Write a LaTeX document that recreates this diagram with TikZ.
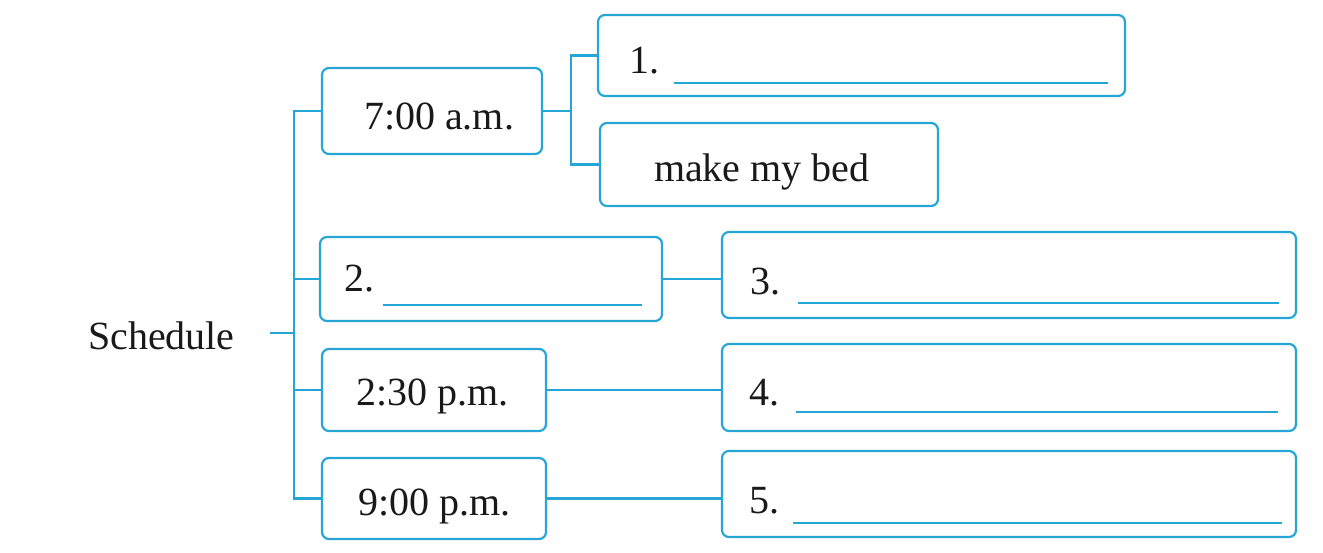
\documentclass[tikz,border=0pt]{standalone}
\usepackage{fontspec}
\setmainfont{Liberation Serif}
\begin{document}
\begin{tikzpicture}[x=1pt,y=-1pt,
  every node/.style={inner sep=0pt, outer sep=0pt},
  box/.style={draw=schedblue, line width=2.2pt, rounded corners=7pt},
  conn/.style={draw=schedblue, line width=2.2pt},
  blank/.style={draw=schedblue, line width=1.8pt},
  txt/.style={anchor=base west, font=\fontsize{40}{48}\selectfont, text=black!90}]
\definecolor{schedblue}{RGB}{38,166,215}
\useasboundingbox (0,0) rectangle (1323,553);
% boxes
\node[box, minimum width=220pt, minimum height=86pt] (t7) at (432,111) {};
\node[box, minimum width=527pt, minimum height=81pt] (b1) at (861.5,55.5) {};
\node[box, minimum width=338pt, minimum height=83pt] (bed) at (769,164.5) {};
\node[box, minimum width=342pt, minimum height=84pt] (b2) at (491,279) {};
\node[box, minimum width=574pt, minimum height=86pt] (b3) at (1009,275) {};
\node[box, minimum width=224pt, minimum height=82pt] (t230) at (434,390) {};
\node[box, minimum width=574pt, minimum height=87pt] (b4) at (1009,387.5) {};
\node[box, minimum width=224pt, minimum height=81pt] (t9) at (434,498.5) {};
\node[box, minimum width=574pt, minimum height=86pt] (b5) at (1009,494) {};
% texts
\node[txt] (sched) at (88,349) {Schedule};
\node[txt] (l7) at (364,130) {7:00 a.m.};
\node[txt] (n1) at (629,74) {1.};
\node[txt] (lbed) at (654,182) {make my bed};
\node[txt] (n2) at (344,292) {2.};
\node[txt] (n3) at (750,295) {3.};
\node[txt] (l230) at (356,405) {2:30 p.m.};
\node[txt] (n4) at (749,405) {4.};
\node[txt] (l9) at (358,515) {9:00 p.m.};
\node[txt] (n5) at (749,513) {5.};
% blanks
\draw[blank] (674,82.7) -- (1108,82.7);
\draw[blank] (383,305) -- (642,305);
\draw[blank] (798,302.7) -- (1279,302.7);
\draw[blank] (796,412.3) -- (1277.5,412.3);
\draw[blank] (793,523.3) -- (1282,523.3);
% connectors
\coordinate (trunk) at (294,0);
\coordinate (schedend) at (270,333);
\coordinate (fork) at (571,0);
\draw[conn] (t7.west) -- (trunk |- t7.west) -- (trunk |- t9.west) -- (t9.west);
\draw[conn] (b2.west) -- (trunk |- b2.west);
\draw[conn] (t230.west) -- (trunk |- t230.west);
\draw[conn] (schedend) -- (trunk |- schedend);
\draw[conn] (t7.east) -- (fork |- t7.east);
\draw[conn] (b1.west) -- (fork |- b1.west) -- (fork |- bed.west) -- (bed.west);
\draw[conn] (b2.east) -- (b2.east -| b3.west);
\draw[conn] (t230.east) -- (t230.east -| b4.west);
\draw[conn] (t9.east) -- (t9.east -| b5.west);
\end{tikzpicture}
\end{document}
